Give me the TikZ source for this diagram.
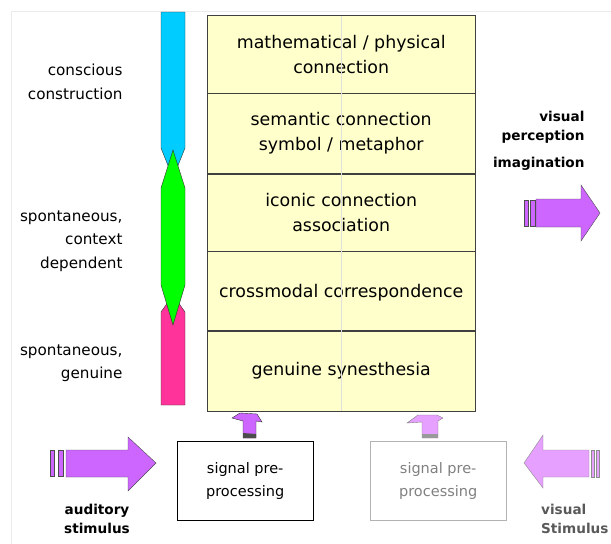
\documentclass[tikz,border=0pt]{standalone}
\usepackage{fontspec}
\setmainfont{DejaVu Sans}
\definecolor{rowfill}{RGB}{255,255,204}
\definecolor{barblue}{RGB}{0,204,255}
\definecolor{bargreen}{RGB}{0,255,0}
\definecolor{barpink}{RGB}{255,51,153}
\definecolor{violet}{RGB}{204,102,255}
\definecolor{lightviolet}{RGB}{230,160,255}

\begin{document}
\begin{tikzpicture}[x=1pt,y=-1pt,
    row/.style={draw=black!75, fill=rowfill, minimum width=268pt, align=center, font=\fontsize{17.4}{25}\selectfont, inner sep=0pt},
    sidelabel/.style={align=right, anchor=east, font=\fontsize{15.2}{23.5}\selectfont},
    boldlabel/.style={font=\bfseries\fontsize{13.6}{19}\selectfont},
    prebox/.style={draw, minimum width=136pt, minimum height=79pt, align=center, font=\fontsize{14.5}{23}\selectfont, inner sep=0pt}]
    \useasboundingbox (0,0) rectangle (611,544);
    % faint frame
    \draw[black!8] (11,544) -- (11,11) -- (611,11);

    % table of connection levels
    \node[row, minimum height=78pt, anchor=north west] (math) at (207,15) {mathematical / physical\\connection};
    \node[row, minimum height=80pt, anchor=north] (sem) at (math.south) {semantic connection\\symbol / metaphor};
    \node[row, minimum height=77pt, anchor=north] (icon) at (sem.south) {iconic connection\\association};
    \node[row, minimum height=79pt, anchor=north, text depth=-3pt] (cross) at (icon.south) {crossmodal correspondence};
    \node[row, minimum height=80pt, anchor=north] (gen) at (cross.south) {genuine synesthesia};
    \draw[black!12] (math.north) -- (gen.south);
    \draw[black!75] (math.north west) rectangle (gen.south east);

    % left bar
    \draw[black!80, fill=barblue] (161,12) -- (185,12) -- (185,148) -- (173,178) -- (161,148) -- cycle;
    \draw[black!80, fill=barpink] (161,405) -- (185,405) -- (185,312) -- (173,295) -- (161,312) -- cycle;
    \draw[black!80, fill=bargreen] (173,150) -- (185,188) -- (185,285) -- (173,325) -- (161,285) -- (161,188) -- cycle;

    % left labels
    \node[sidelabel] (consc) at (126,82) {conscious\\construction};
    \node[sidelabel] (context) at (126,241) {spontaneous,\\context\\dependent};
    \node[sidelabel] (genuine) at (126,363) {spontaneous,\\genuine};

    % right labels
    \node[boldlabel, align=right, anchor=east] (percep) at (588,127) {visual\\perception};
    \node[boldlabel, anchor=east] (imag) at (588,164) {imagination};

    % output arrow
    \draw[black!70, fill=violet] (524,200) rectangle (528,226);
    \draw[black!70, fill=violet] (530,200) rectangle (535,226);
    \draw[black!70, fill=violet] (536,199) -- (581,199) -- (581,185) -- (600,213) -- (581,241) -- (581,227) -- (536,227) -- cycle;

    % auditory side
    \draw[black!70, fill=violet] (50,450) rectangle (54,476);
    \draw[black!70, fill=violet] (58,450) rectangle (63,476);
    \draw[black!70, fill=violet] (66,450) -- (128,450) -- (128,437) -- (156,463) -- (128,491) -- (128,477) -- (66,477) -- cycle;
    \node[prebox, anchor=north west] (preA) at (177,441) {signal pre-\\processing};
    \node[boldlabel, align=center] (audit) at (97,519) {auditory\\stimulus};
    \draw[black!80, fill=violet] (232,418) -- (240,413) -- (257,414) -- (262,422) -- (256,421) -- (256,438) -- (243,438) -- (243,421) -- cycle;
    \fill[black!70] (243,433) -- (256,434) -- (256,438) -- (243,438) -- cycle;

    % visual side
    \node[prebox, draw=black!30, text=black!50, anchor=north west] (preV) at (370,441) {signal pre-\\processing};
    \draw[black!45, fill=lightviolet] (596,450) rectangle (599,477);
    \draw[black!45, fill=lightviolet] (591,450) rectangle (594,477);
    \draw[black!45, fill=lightviolet] (589,450) -- (543,450) -- (543,435) -- (524,463) -- (543,488) -- (543,477) -- (589,477) -- cycle;
    \node[boldlabel, align=left, anchor=west, text=black!65, inner xsep=0pt] (visst) at (541,519) {visual\\Stimulus};
    \draw[black!50, fill=lightviolet] (407,423) -- (418,415) -- (437,415) -- (443,418) -- (438,421) -- (438,438) -- (422,438) -- (422,422) -- cycle;
    \fill[black!40] (422,434) -- (438,434) -- (438,438) -- (422,438) -- cycle;
\end{tikzpicture}
\end{document}
